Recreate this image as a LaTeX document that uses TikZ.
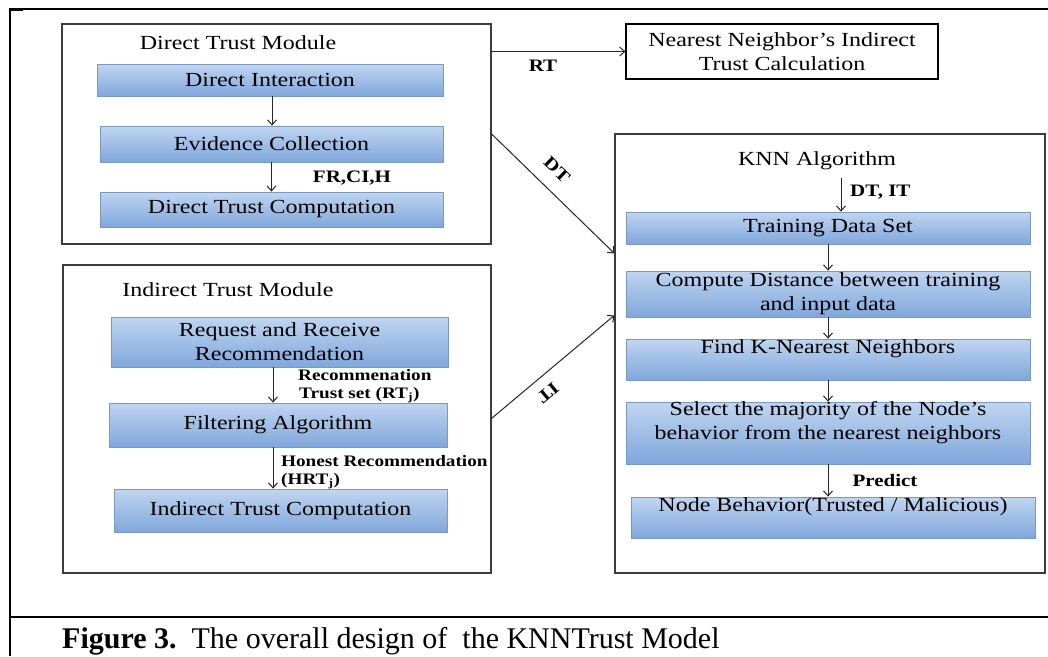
\documentclass[tikz,border=0pt]{standalone}
\usepackage{fontspec}
\setmainfont{Liberation Serif}[FakeStretch=1.2]
\newfontfamily\capfont{Liberation Serif}
\usetikzlibrary{arrows.meta,calc}
\definecolor{btop}{RGB}{192,213,241}
\definecolor{bbot}{RGB}{128,167,219}
\definecolor{bedge}{RGB}{122,152,192}
\definecolor{modedge}{RGB}{60,60,60}
\tikzset{
  module/.style={draw=modedge, line width=1.3pt, fill=white, inner sep=0pt},
  bbox/.style={draw=bedge, line width=0.8pt, top color=btop, bottom color=bbot, inner sep=0pt, align=center, font=\fontsize{20}{24}\selectfont},
  txt/.style={inner sep=0pt, align=center, font=\fontsize{20}{24}\selectfont},
  lbl/.style={inner sep=0pt, font=\bfseries\fontsize{17.5}{20}\selectfont},
  slbl/.style={inner sep=0pt, anchor=west, font=\bfseries\fontsize{16}{19}\selectfont},
  arr/.style={draw=black!85, line width=1pt, -{Straight Barb[length=5pt,width=9pt]}},
  frame/.style={draw=black, line width=1.2pt}
}
\begin{document}
\begin{tikzpicture}[x=1pt,y=-1pt]
\useasboundingbox (0,0) rectangle (1048,656);
\fill[white] (0,0) rectangle (1048,656);
% outer frame
\coordinate (fbl) at (10,656);
\coordinate (ftl) at (10,9);
\coordinate (ftr) at (1048,9);
\coordinate (cl) at (10,617);
\coordinate (cr) at (1048,617);
\draw[frame] (fbl) -- (ftl) -- (ftr);
\draw[line width=3pt] (ftl) -- ++(13,0);
\draw[line width=2.5pt] (cl) -- (cr);

% Direct trust module
\node[module, minimum width=429pt, minimum height=220pt] (dmod) at (276.5,134) {};
\node[txt] (dtitle) at (238,43) {Direct Trust Module};
\node[bbox, minimum width=346pt, minimum height=32pt] (di) at (270,80) {Direct Interaction};
\node[bbox, minimum width=343pt, minimum height=36pt] (ec) at (271.5,144) {Evidence Collection};
\node[bbox, minimum width=343pt, minimum height=35pt] (dtc) at (271.5,209.5) {Direct Trust Computation};
\draw[arr] ($(di.south)+(2,0)$) -- ($(di.south |- ec.north)+(2,0)$);
\draw[arr] (ec.south) -- (dtc.north);
\node[lbl] (frci) at (352,178) {FR,CI,H};

% Indirect trust module
\node[module, minimum width=428pt, minimum height=308pt] (imod) at (277,419) {};
\node[txt] (ititle) at (228,290) {Indirect Trust Module};
\node[bbox, minimum width=337pt, minimum height=50pt] (rr) at (279.5,342) {Request and Receive\\Recommendation};
\node[bbox, minimum width=338pt, minimum height=44pt] (fa) at (278,425) {Filtering Algorithm};
\node[bbox, minimum width=333pt, minimum height=43pt] (itc) at (280.5,510.5) {Indirect Trust Computation};
\draw[arr] ($(rr.south)+(-6.5,0)$) -- ($(rr.south |- fa.north)+(-6.5,0)$);
\draw[arr] ($(fa.south)+(-5,0)$) -- ($(fa.south |- itc.north)+(-5,0)$);
\node[slbl] (rec1) at (298,375) {Recommenation};
\node[slbl] (rec2) at (299,395) {Trust set (RT\textsubscript{j})};
\node[slbl] (hon1) at (281,461) {Honest Recommendation};
\node[slbl] (hon2) at (281,481) {(HRT\textsubscript{j})};

% Nearest neighbour box
\node[draw=black, line width=1.2pt, fill=white, minimum width=312pt, minimum height=55pt, txt] (nn) at (782,51.5) {Nearest Neighbor's Indirect\\Trust Calculation};
\draw[arr] (dmod.east |- nn.west) -- (nn.west);
\node[lbl] (rt) at (543,66) {RT};

% KNN box
\node[module, minimum width=430pt, minimum height=439pt] (kbox) at (830,353.5) {};
\node[txt] (ktitle) at (817,161) {KNN Algorithm};
\coordinate (kin) at (841,178);
\node[bbox, minimum width=404pt, minimum height=32pt] (td) at (828,228) {Training Data Set};
\draw[arr] (kin) -- (kin |- td.north);
\node[lbl, anchor=west] (dtit) at (850,192) {DT, IT};
\node[bbox, minimum width=404pt, minimum height=46pt] (cd) at (828,294) {Compute Distance between training\\and input data};
\node[bbox, minimum width=404pt, minimum height=41pt] (fk) at (828,359.5) {};
\node[txt] (fkt) at (828,349) {Find K-Nearest Neighbors};
\node[bbox, minimum width=404pt, minimum height=62pt] (sm) at (828,433) {};
\node[txt] (smt) at (828,423) {Select the majority of the Node's\\behavior from the nearest neighbors};
\node[bbox, minimum width=404pt, minimum height=41pt] (nb) at (833,517.5) {};
\node[txt] (nbt) at (833,507) {Node Behavior(Trusted / Malicious)};
\draw[arr] (td.south) -- (cd.north);
\draw[arr] (cd.south) -- (fk.north);
\draw[arr] (fk.south) -- (sm.north);
\draw[arr] (sm.south) -- (sm.south |- nb.north);
\node[lbl] (pred) at (885,481) {Predict};

% DT and IT connectors
\draw[arr] (dmod.east) -- ($(kbox.north west)+(0,120)$);
\node[lbl, rotate=-44] (dtl) at (557,170) {DT};
\draw[arr] ($(imod.north east)+(0,154)$) -- ($(kbox.north west)+(0,182)$);
\node[lbl, rotate=220] (itl) at (548,393) {IT};

% caption
\node[anchor=base west, inner sep=0pt, font=\capfont\fontsize{30}{34}\selectfont] (cap) at (62,648) {\textbf{Figure 3.}\ \ The overall design of\ \ the KNNTrust Model};
\end{tikzpicture}
\end{document}
